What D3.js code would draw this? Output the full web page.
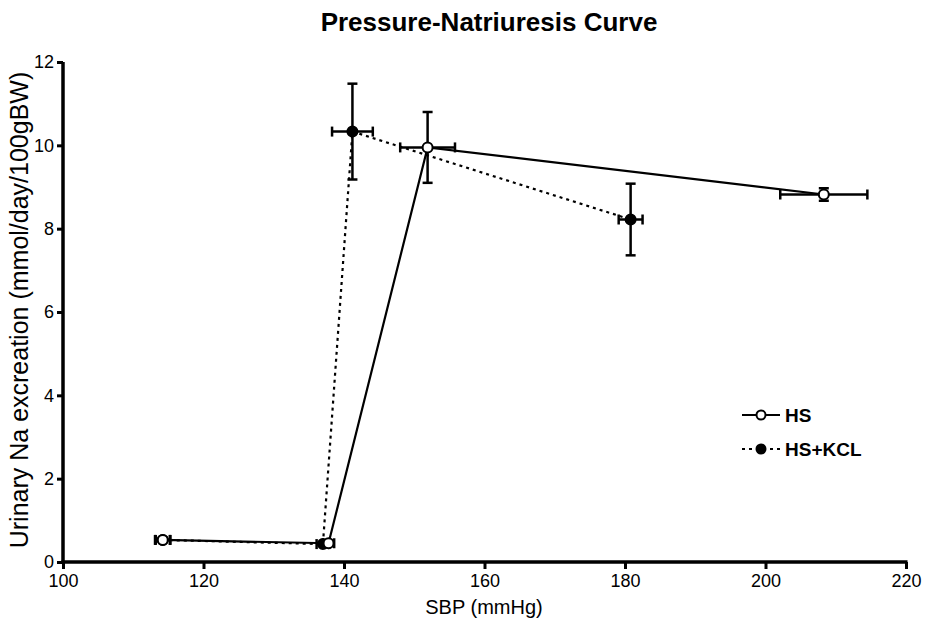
<!DOCTYPE html>
<html>
<head>
<meta charset="utf-8">
<script src="https://cdn.jsdelivr.net/npm/d3@7"></script>
<style>
  body { margin: 0; background: #fff; }
  svg { display: block; font-family: "Liberation Sans", Arial, sans-serif; }
  .tick text { font-family: "Liberation Sans", Arial, sans-serif; font-size: 18px; fill: #000; }
</style>
</head>
<body>
<div id="chart"></div>
<script>
// HS series (open circle, solid line)
var hsSbp = [114.2, 137.8, 151.9, 208.3];
var hsSbpErr = [1.0, 0.8, 3.9, 6.2];
var hsNa = [0.53, 0.45, 9.95, 8.82];
var hsNaErr = [0.05, 0.04, 0.85, 0.15];

// HS+KCL series (filled circle, dotted line)
var kclSbp = [114.2, 137.0, 141.2, 180.8];
var kclSbpErr = [1.1, 0.9, 2.9, 1.7];
var kclNa = [0.53, 0.43, 10.33, 8.22];
var kclNaErr = [0.05, 0.04, 1.15, 0.86];

var xTicks = [100, 120, 140, 160, 180, 200, 220];
var yTicks = [0, 2, 4, 6, 8, 10, 12];

var W = 927, H = 628;
var margin = { top: 62, right: 21, bottom: 66, left: 63 };
var width = W - margin.left - margin.right;
var height = H - margin.top - margin.bottom;

var svg = d3.select('#chart').append('svg')
    .attr('width', W)
    .attr('height', H);

var g = svg.append('g')
    .attr('transform', 'translate(' + margin.left + ',' + margin.top + ')');

var x = d3.scaleLinear().domain([100, 220]).range([0, width]);
var y = d3.scaleLinear().domain([0, 12]).range([height, 0]);

// build rows
function rows(sbp, sbpErr, na, naErr) {
    return sbp.map(function (d, i) {
        return { x: d, xe: sbpErr[i], y: na[i], ye: naErr[i] };
    });
}
var series = [
    { name: 'HS', data: rows(hsSbp, hsSbpErr, hsNa, hsNaErr), dash: null, fill: '#fff' },
    { name: 'HS+KCL', data: rows(kclSbp, kclSbpErr, kclNa, kclNaErr), dash: '3,4', fill: '#000' }
];

// Axes
var xAxis = g.append('g')
    .attr('transform', 'translate(0,' + height + ')')
    .call(d3.axisBottom(x).tickValues(xTicks).tickSize(7).tickPadding(3).tickSizeOuter(0));
var yAxis = g.append('g')
    .call(d3.axisLeft(y).tickValues(yTicks).tickSize(6).tickPadding(3).tickSizeOuter(0));

[xAxis, yAxis].forEach(function (a) {
    a.select('.domain').remove();
    a.selectAll('.tick line').attr('stroke', '#000').attr('stroke-width', 3);
});
xAxis.selectAll('.tick text').attr('dy', '0.85em');

// heavy axis lines
g.append('line')
    .attr('x1', x.range()[0] - 1.5).attr('x2', x.range()[1] + 1.5)
    .attr('y1', y(0)).attr('y2', y(0))
    .attr('stroke', '#000').attr('stroke-width', 3.5);
g.append('line')
    .attr('x1', x(100)).attr('x2', x(100))
    .attr('y1', y(12)).attr('y2', y(0))
    .attr('stroke', '#000').attr('stroke-width', 3.5);

// Lines
var line = d3.line()
    .x(function (d) { return x(d.x); })
    .y(function (d) { return y(d.y); });

series.slice().reverse().forEach(function (s) {
    g.append('path')
        .datum(s.data)
        .attr('d', line)
        .attr('fill', 'none')
        .attr('stroke', '#000')
        .attr('stroke-width', 2.2)
        .attr('stroke-dasharray', s.dash);
});

// Error bars and points
var cap = 5;
series.slice().reverse().forEach(function (s) {
    var eg = g.append('g').attr('stroke', '#000').attr('stroke-width', 2.5);
    s.data.forEach(function (d) {
        var cx = x(d.x), cy = y(d.y);
        var x0 = x(d.x - d.xe), x1 = x(d.x + d.xe);
        var y0 = y(d.y - d.ye), y1 = y(d.y + d.ye);
        eg.append('line').attr('x1', x0).attr('x2', x1).attr('y1', cy).attr('y2', cy);
        eg.append('line').attr('x1', x0).attr('x2', x0).attr('y1', cy - cap).attr('y2', cy + cap);
        eg.append('line').attr('x1', x1).attr('x2', x1).attr('y1', cy - cap).attr('y2', cy + cap);
        eg.append('line').attr('x1', cx).attr('x2', cx).attr('y1', y0).attr('y2', y1);
        eg.append('line').attr('x1', cx - cap).attr('x2', cx + cap).attr('y1', y0).attr('y2', y0);
        eg.append('line').attr('x1', cx - cap).attr('x2', cx + cap).attr('y1', y1).attr('y2', y1);
    });
    g.selectAll(null)
        .data(s.data)
        .enter()
        .append('circle')
        .attr('cx', function (d) { return x(d.x); })
        .attr('cy', function (d) { return y(d.y); })
        .attr('r', 5)
        .attr('fill', s.fill)
        .attr('stroke', '#000')
        .attr('stroke-width', 2);
});

// Title and axis titles
svg.append('text')
    .attr('x', 489).attr('y', 31)
    .attr('text-anchor', 'middle')
    .style('font-size', '26px').style('font-weight', 'bold')
    .text('Pressure-Natriuresis Curve');

svg.append('text')
    .attr('x', 484).attr('y', 614)
    .attr('text-anchor', 'middle')
    .style('font-size', '20px')
    .text('SBP (mmHg)');

svg.append('text')
    .attr('transform', 'translate(28,' + 310 + ') rotate(-90)')
    .attr('text-anchor', 'middle')
    .style('font-size', '25px')
    .text('Urinary Na excreation (mmol/day/100gBW)');

// Legend
var legend = svg.append('g').attr('transform', 'translate(742,415)');
series.forEach(function (s, i) {
    var row = legend.append('g').attr('transform', 'translate(0,' + (i * 34) + ')');
    row.append('line')
        .attr('x1', 0).attr('x2', 38)
        .attr('stroke', '#000').attr('stroke-width', 2)
        .attr('stroke-dasharray', s.dash);
    row.append('circle')
        .attr('cx', 19).attr('r', 4.5)
        .attr('fill', s.fill).attr('stroke', '#000').attr('stroke-width', 2);
    row.append('text')
        .attr('x', 43).attr('dy', '0.36em')
        .style('font-size', '19px').style('font-weight', 'bold')
        .text(s.name);
});
</script>
</body>
</html>
